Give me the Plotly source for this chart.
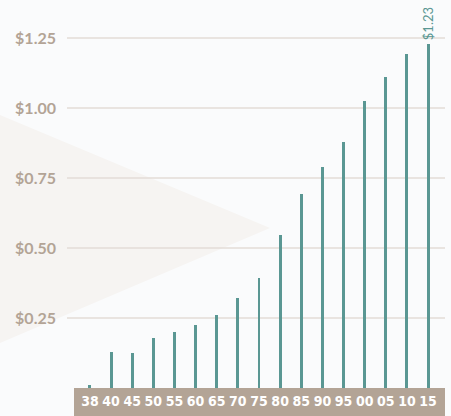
import plotly.graph_objects as go

years = ["38", "40", "45", "50", "55", "60", "65", "70", "75", "80", "85", "90", "95", "00", "05", "10", "15"]
values = [0.01, 0.13, 0.124, 0.177, 0.199, 0.224, 0.262, 0.321, 0.392, 0.548, 0.692, 0.789, 0.880, 1.025, 1.110, 1.192, 1.23]
last_label = "$1.23"
ytick_vals = [0.25, 0.50, 0.75, 1.00, 1.25]
ytick_text = ["$0.25", "$0.50", "$0.75", "$1.00", "$1.25"]

W, H = 451, 416
L, R, T, B = 73, 6, 10, 28
pw, ph = W - L - R, H - T - B

def px_x(p):
    return (p - L) / pw

def px_y(p):
    return (H - B - p) / ph

TEAL = "#5a9793"
TAUPE = "#b3a496"

fig = go.Figure()
fig.add_trace(go.Bar(
    x=years, y=values, width=0.14, marker=dict(color=TEAL, line=dict(width=0)),
    hoverinfo="skip",
))

# category axis: annotation x given as category index of the last bar
fig.add_annotation(
    x=len(years) - 1, y=values[-1], text=last_label, textangle=-90,
    showarrow=False, xanchor="center", yanchor="bottom", yshift=1,
    font=dict(family="Lato", size=13, color=TEAL),
)

shapes = []
# background triangle
shapes.append(dict(
    type="path", xref="paper", yref="paper", layer="below",
    path=f"M {px_x(0)},{px_y(115)} L {px_x(270)},{px_y(228)} L {px_x(0)},{px_y(343)} Z",
    fillcolor="#f6f4f2", line=dict(width=0),
))
# gridlines
for v in ytick_vals:
    shapes.append(dict(type="line", xref="paper", yref="y", layer="below",
                       x0=px_x(67), x1=1, y0=v, y1=v,
                       line=dict(color="#e3ddd7", width=1.5)))
# axis band
shapes.append(dict(type="rect", xref="paper", yref="paper", layer="below",
                   x0=px_x(74), x1=1, y0=px_y(H + 2), y1=0,
                   fillcolor=TAUPE, line=dict(width=0)))

fig.update_layout(
    width=W, height=H, margin=dict(l=L, r=R, t=T, b=B),
    paper_bgcolor="#fafbfc", plot_bgcolor="rgba(0,0,0,0)",
    showlegend=False, shapes=shapes, bargap=0,
    xaxis=dict(type="category", range=[-0.8, 16.8], showgrid=False, zeroline=False,
               showline=False, ticks="", ticklabelstandoff=3,
               tickfont=dict(family="DejaVu Sans Condensed, Roboto, DejaVu Sans", size=14,
                             color="white", weight="bold")),
    yaxis=dict(range=[0, 1.35], tickvals=ytick_vals, ticktext=ytick_text,
               showgrid=False, zeroline=False, showline=False, ticks="",
               ticklabelstandoff=16,
               tickfont=dict(family="Lato", size=16, color=TAUPE, weight="bold")),
)

fig.write_html("out.html")
